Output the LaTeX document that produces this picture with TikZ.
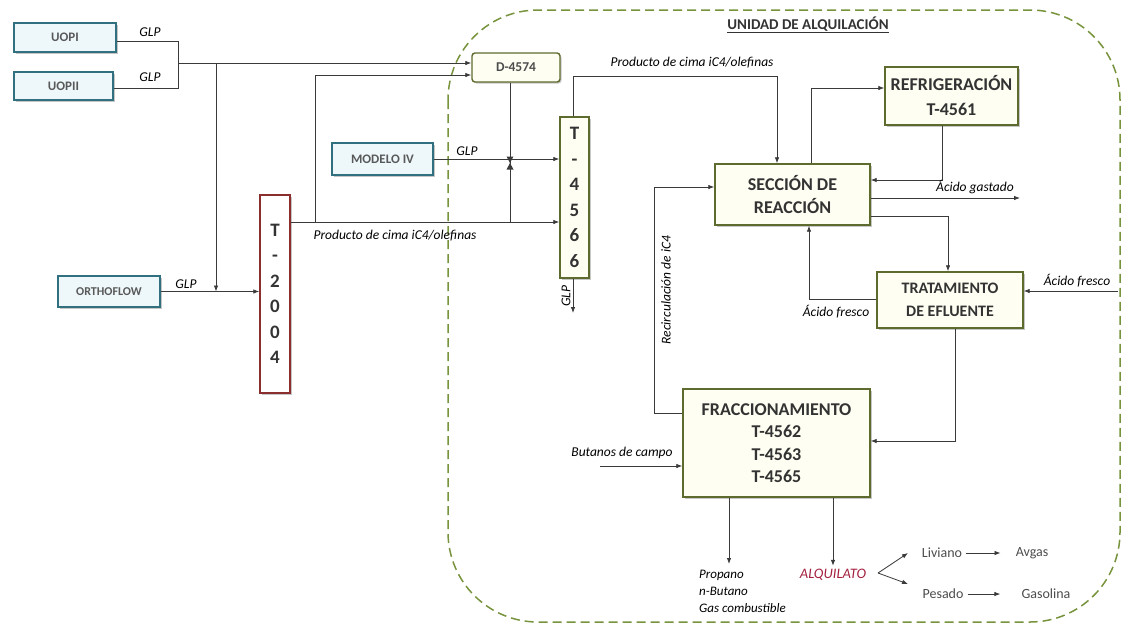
\documentclass[tikz,border=0pt]{standalone}
\usepackage{fontspec}
\setmainfont{Carlito}
\usetikzlibrary{arrows.meta,shadows,positioning}
\definecolor{tealbox}{HTML}{31707E}
\definecolor{cyanfill}{HTML}{EEF8FA}
\definecolor{olivebox}{HTML}{5E6B2E}
\definecolor{creamfill}{HTML}{FEFEF2}
\definecolor{zonegreen}{HTML}{77933C}
\definecolor{colred}{HTML}{8B2E2E}
\definecolor{alqred}{HTML}{A3213F}
\definecolor{pipe}{HTML}{3A3A3A}

\begin{document}
\begin{tikzpicture}[x=1pt,y=-1pt,
  shade/.style={drop shadow={shadow xshift=1.5pt,shadow yshift=-1.5pt,opacity=.45}},
  unit/.style={draw=tealbox, fill=cyanfill, line width=1.6pt, inner sep=0pt, shade,
    font=\fontsize{13}{15}\selectfont\bfseries, text=black!65},
  sect/.style={draw=olivebox, fill=creamfill, line width=1.4pt, inner sep=0pt, shade,
    align=center, font=\fontsize{18}{22.5}\selectfont\bfseries, text=black!80},
  tower/.style={line width=1.4pt, inner sep=0pt, shade, align=center,
    font=\fontsize{19}{25.5}\selectfont\bfseries, text=black!80},
  lbl/.style={font=\fontsize{13.5}{16}\selectfont\itshape, inner sep=1pt},
  prodtxt/.style={font=\fontsize{14}{16}\selectfont, text=black!70, inner sep=1pt},
  flow/.style={pipe, line width=.8pt, -{Latex[length=6pt,width=4.5pt]}},
  pipeline/.style={pipe, line width=.8pt}]
\useasboundingbox (0,0) rectangle (1123,625);

% unidad de alquilacion
\draw[zonegreen, line width=1.5pt, dash pattern=on 9pt off 5pt, rounded corners=90pt]
  (448,10) rectangle (1120,622);
\node[font=\fontsize{15}{17}\selectfont\bfseries, text=black!80] (title) at (808,25)
  {\underline{UNIDAD DE ALQUILACIÓN}};

% unidades de entrada
\node[unit, minimum width=102, minimum height=29] (uop1) at (65,37.5) {UOPI};
\node[unit, minimum width=99, minimum height=28] (uop2) at (63.5,86) {UOPII};
\node[unit, minimum width=102, minimum height=31, font=\fontsize{12}{14}\selectfont\bfseries]
  (orth) at (109,291.5) {ORTHOFLOW};
\node[unit, minimum width=101, minimum height=32] (mod) at (382.5,159) {MODELO IV};
\node[draw=olivebox, fill=creamfill, line width=1.4pt, rounded corners=3pt, shade,
  minimum width=88, minimum height=29, font=\fontsize{13.5}{15}\selectfont\bfseries,
  text=black!70] (d4574) at (516,67.5) {D-4574};

% torres
\node[tower, draw=colred, fill=white, minimum width=30, minimum height=198]
  (t2004) at (275,294) {T\\-\\2\\0\\0\\4};
\node[tower, draw=olivebox, fill=creamfill, minimum width=29, minimum height=161]
  (t4566) at (574.5,197.5) {T\\-\\4\\5\\6\\6};

% secciones
\node[sect, minimum width=133, minimum height=58, font=\fontsize{18}{25}\selectfont\bfseries]
  (refri) at (951.5,96) {REFRIGERACIÓN\\T-4561};
\node[sect, minimum width=155, minimum height=61] (sec) at (792.5,194.5)
  {SECCIÓN DE\\REACCIÓN};
\node[sect, minimum width=146, minimum height=56, font=\fontsize{16}{23}\selectfont\bfseries]
  (trat) at (950,300) {TRATAMIENTO\\DE EFLUENTE};
\node[sect, minimum width=187, minimum height=108] (frac) at (776.5,443)
  {FRACCIONAMIENTO\\T-4562\\T-4563\\T-4565};

% puntos de union
\coordinate (j1) at (178,63);
\coordinate (j2) at (216,63);
\coordinate (j3) at (315,222);
\coordinate (j4) at (315,75);
\coordinate (valve) at (510,163);
\coordinate (k1) at (777,76);
\coordinate (k2) at (811,88);
\coordinate (k3) at (942,180);
\coordinate (k4) at (948,216);
\coordinate (k5) at (809,299);
\coordinate (k6) at (955,441);
\coordinate (k7) at (654,413);
\coordinate (k8) at (654,187);
\coordinate (k9) at (729,564);
\coordinate (glp) at (573,313);
\coordinate (gas) at (1020,198);
\coordinate (fresh) at (1118,291);
\coordinate (but) at (600,466);
\coordinate (fork) at (878,573);
\coordinate (up) at (908,553);
\coordinate (down) at (908,584);

% GLP de las UOP
\draw[pipeline] (uop1.east |- 0,41) -| (j1);
\draw[pipeline] (uop2.east |- 0,88) -| (j1);
\draw[flow] (j1) -- (j1 -| d4574.west);
\draw[flow] (j2) -- (j2 |- orth.east);
\draw[flow] (orth.east) -- (orth.east -| t2004.west);
\node[lbl] (glp1) at (150,32) {GLP};
\node[lbl] (glp2) at (150,77) {GLP};
\node[lbl] (glp3) at (186,284) {GLP};

% cima T-2004
\draw[flow] (j3 -| t2004.east) -- (j3 -| t4566.west);
\draw[flow] (j3) -- (j4) -- (j4 -| d4574.west);
\node[lbl] (prod1) at (395,236) {Producto de cima iC4/olefinas};
\draw[pipeline] (valve |- d4574.south) -- (valve |- j3);
\fill[pipe] (506.5,156.5) -- (513.5,156.5) -- (506.5,169.5) -- (513.5,169.5) -- cycle;
\draw[flow] (mod.east) -- (mod.east -| t4566.west);
\node[lbl] (glp4) at (467,151) {GLP};

% T-4566
\draw[flow] (t4566.north -| glp) |- (k1) -- (k1 |- sec.north);
\node[lbl] (prod2) at (692,63) {Producto de cima iC4/olefinas};
\draw[flow] (t4566.south -| glp) -- (glp);
\node[lbl, rotate=90] (glplbl) at (566,296) {GLP};

% reaccion y refrigeracion
\draw[flow] (k2 |- sec.north) -- (k2) -- (k2 -| refri.west);
\draw[flow] (k3 |- refri.south) -- (k3) -- (k3 -| sec.east);
\draw[flow] (gas -| sec.east) -- (gas);
\node[lbl] (gastado) at (975,187) {Ácido gastado};
\draw[flow] (k4 -| sec.east) -- (k4) -- (k4 |- trat.north);
\draw[flow] (fresh) -- (fresh -| trat.east);
\node[lbl] (fresco1) at (1077,281) {Ácido fresco};
\draw[flow] (k5 -| trat.west) -- (k5) -- (k5 |- sec.south);
\node[lbl] (fresco2) at (836,312) {Ácido fresco};

% fraccionamiento
\draw[flow] (k6 |- trat.south) -- (k6) -- (k6 -| frac.east);
\draw[flow] (k7 -| frac.west) -- (k7) -- (k8) -- (k8 -| sec.west);
\node[lbl, rotate=90] (recir) at (666,290) {Recirculación de iC4};
\draw[flow] (but) -- (but -| frac.west);
\node[lbl] (butanos) at (622,453) {Butanos de campo};
\draw[flow] (k9 |- frac.south) -- (k9);
\node[lbl, align=left, anchor=north west, font=\fontsize{13}{17}\selectfont\itshape]
  (prods) at (698,569) {Propano\\n-Butano\\Gas combustible};

% alquilato
\node[font=\fontsize{14.5}{16}\selectfont\itshape, text=alqred] (alq) at (833,575) {ALQUILATO};
\draw[flow] (alq.north |- frac.south) -- (alq.north);
\draw[flow] (fork) -- (up);
\draw[flow] (fork) -- (down);
\node[prodtxt] (liv) at (942,553) {Liviano};
\node[prodtxt] (pes) at (943,594) {Pesado};
\node[prodtxt] (avg) at (1032,553) {Avgas};
\node[prodtxt] (gaso) at (1046,594) {Gasolina};
\draw[flow, shorten <=3pt, shorten >=14pt] (liv.east) -- (avg.west);
\draw[flow, shorten <=3pt, shorten >=20pt] (pes.east) -- (gaso.west);
\end{tikzpicture}
\end{document}
